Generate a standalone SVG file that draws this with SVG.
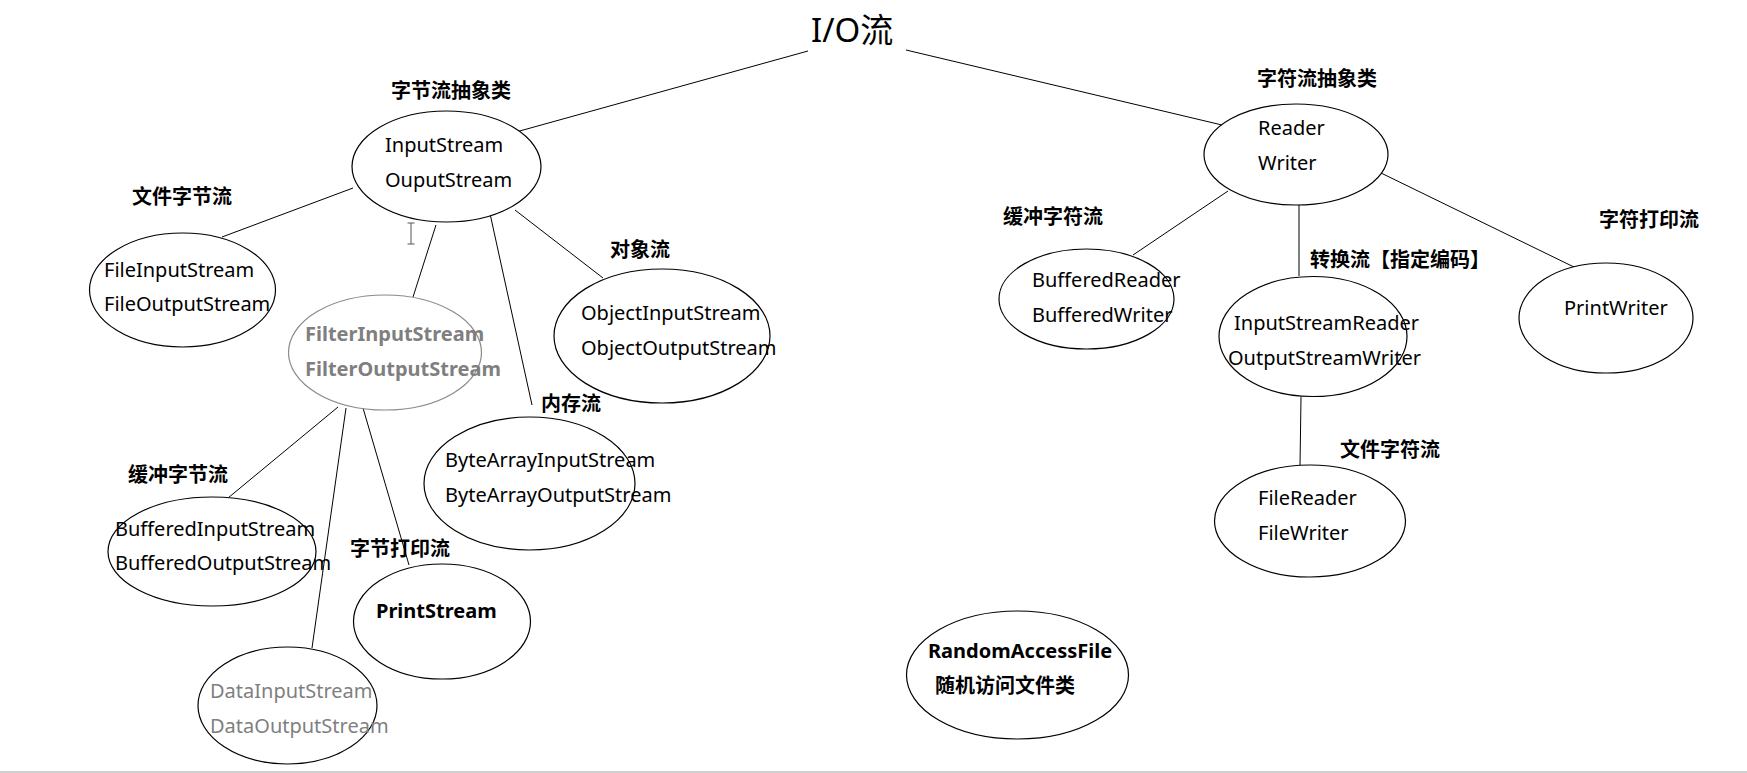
<svg xmlns="http://www.w3.org/2000/svg" width="1747" height="773" viewBox="0 0 1747 773">
<style>
.n{fill:#fff;stroke:#000;stroke-width:1.2}
.g{fill:#fff;stroke:#8a8a8a;stroke-width:1.2}
.t{font-family:"Noto Sans","Noto Sans CJK SC",sans-serif;font-size:20px;fill:#000}
.b{font-family:"Noto Sans","Noto Sans CJK SC",sans-serif;font-size:20px;font-weight:bold;fill:#000}
.gb{font-family:"Noto Sans","Noto Sans CJK SC",sans-serif;font-size:20px;font-weight:bold;fill:#7f7f7f}
.gt{font-family:"Noto Sans","Noto Sans CJK SC",sans-serif;font-size:20px;fill:#7f7f7f}
.c line{stroke:#000;stroke-width:1}
</style>
<rect width="1747" height="773" fill="#fff"/>
<line x1="0" y1="772" x2="1747" y2="772" stroke="#cfcfcf" stroke-width="2"/>
<g id="connectors" class="c">
<line x1="808" y1="51" x2="516" y2="132"/>
<line x1="906" y1="50" x2="1222" y2="125"/>
<line x1="353" y1="188" x2="222" y2="237"/>
<line x1="436" y1="225" x2="413" y2="297"/>
<line x1="489" y1="209" x2="532" y2="405"/>
<line x1="515" y1="210" x2="603" y2="278"/>
<line x1="338" y1="407" x2="228" y2="498"/>
<line x1="346" y1="408" x2="312" y2="648"/>
<line x1="363" y1="408" x2="409" y2="565"/>
<line x1="1228" y1="191" x2="1133" y2="255"/>
<line x1="1299" y1="205" x2="1299" y2="276"/>
<line x1="1381" y1="173" x2="1576" y2="268"/>
<line x1="1301" y1="397" x2="1300" y2="466"/>
</g>
<g id="title"><text class="t" x="811" y="42" style="font-size:33px">I/O流</text></g>
<g id="cursor"><path d="M407.5 223h7M411 223v21M407.5 244h7" stroke="#555" stroke-width="1" fill="none"/></g>
<g id="byte-abstract">
<ellipse class="n" cx="446.5" cy="166.5" rx="94.5" ry="55.5"/>
<text class="b" x="391" y="98">字节流抽象类</text>
<text class="t" x="385" y="152">InputStream</text>
<text class="t" x="385" y="187">OuputStream</text>
</g>
<g id="file-byte">
<ellipse class="n" cx="182.5" cy="290" rx="93" ry="57"/>
<text class="b" x="132" y="204">文件字节流</text>
<text class="t" x="104" y="277">FileInputStream</text>
<text class="t" x="104" y="311">FileOutputStream</text>
</g>
<g id="filter">
<ellipse class="g" cx="385" cy="352.5" rx="96.5" ry="57.5"/>
<text class="gb" x="305" y="341">FilterInputStream</text>
<text class="gb" x="305" y="376">FilterOutputStream</text>
</g>
<g id="object">
<ellipse class="n" cx="662" cy="336" rx="108" ry="67"/>
<text class="b" x="610" y="257">对象流</text>
<text class="t" x="581" y="320">ObjectInputStream</text>
<text class="t" x="581" y="355">ObjectOutputStream</text>
</g>
<g id="memory">
<ellipse class="n" cx="529.5" cy="483.5" rx="105.5" ry="66.5"/>
<text class="b" x="541" y="411">内存流</text>
<text class="t" x="445" y="467">ByteArrayInputStream</text>
<text class="t" x="445" y="502">ByteArrayOutputStream</text>
</g>
<g id="buffered-byte">
<ellipse class="n" cx="212" cy="551.5" rx="104" ry="54.5"/>
<text class="b" x="128" y="482">缓冲字节流</text>
<text class="t" x="115" y="536">BufferedInputStream</text>
<text class="t" x="115" y="570">BufferedOutputStream</text>
</g>
<g id="printstream">
<ellipse class="n" cx="442" cy="621.5" rx="88.5" ry="57.5"/>
<text class="b" x="350" y="556">字节打印流</text>
<text class="b" x="376" y="618">PrintStream</text>
</g>
<g id="data">
<ellipse class="n" cx="287.5" cy="705.5" rx="89.5" ry="58.5"/>
<text class="gt" x="210" y="698">DataInputStream</text>
<text class="gt" x="210" y="733">DataOutputStream</text>
</g>
<g id="char-abstract">
<ellipse class="n" cx="1296" cy="154.5" rx="92" ry="50.5"/>
<text class="b" x="1257" y="86">字符流抽象类</text>
<text class="t" x="1258" y="135">Reader</text>
<text class="t" x="1258" y="170">Writer</text>
</g>
<g id="buffered-char">
<ellipse class="n" cx="1086.5" cy="299" rx="87.5" ry="50"/>
<text class="b" x="1003" y="224">缓冲字符流</text>
<text class="t" x="1032" y="287">BufferedReader</text>
<text class="t" x="1032" y="322">BufferedWriter</text>
</g>
<g id="convert">
<ellipse class="n" cx="1313" cy="336.5" rx="94" ry="60"/>
<text class="b" x="1310" y="267">转换流【指定编码】</text>
<text class="t" x="1234" y="330">InputStreamReader</text>
<text class="t" x="1228" y="365">OutputStreamWriter</text>
</g>
<g id="printwriter">
<ellipse class="n" cx="1606" cy="318" rx="87" ry="55"/>
<text class="b" x="1599" y="227">字符打印流</text>
<text class="t" x="1564" y="315">PrintWriter</text>
</g>
<g id="file-char">
<ellipse class="n" cx="1310" cy="521" rx="95.5" ry="56"/>
<text class="b" x="1340" y="457">文件字符流</text>
<text class="t" x="1258" y="505">FileReader</text>
<text class="t" x="1258" y="540">FileWriter</text>
</g>
<g id="random">
<ellipse class="n" cx="1017.5" cy="675" rx="111" ry="64"/>
<text class="b" x="928" y="658">RandomAccessFile</text>
<text class="b" x="935" y="693">随机访问文件类</text>
</g>
</svg>
